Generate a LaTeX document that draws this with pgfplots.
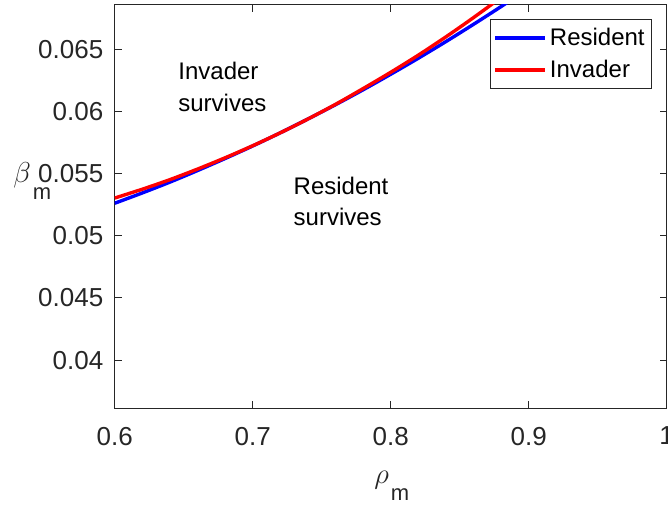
\documentclass[border=0pt]{standalone}
\usepackage{fontspec}
\setmainfont{Liberation Sans}
\usepackage{pgfplots}
\pgfplotsset{compat=1.18}
\definecolor{axgray}{RGB}{38,38,38}
\begin{document}
\begin{tikzpicture}
\begin{axis}[
  scale only axis, width=276pt, height=201.65pt,
  xmin=0.6, xmax=1, ymin=0.03614, ymax=0.0686,
  xtick={0.6,0.7,0.8,0.9,1}, xticklabels={0.6,0.7,0.8,0.9,1},
  ytick={0.04,0.045,0.05,0.055,0.06,0.065},
  yticklabels={0.04,0.045,0.05,0.055,0.06,0.065},
  tick align=inside, major tick length=3.5pt,
  axis line style={axgray, line width=0.5pt},
  every tick/.style={axgray, line width=0.5pt},
  ticklabel style={font=\fontsize{13}{15}\selectfont, text=axgray},
  xticklabel style={yshift=-6pt},
  yticklabel style={xshift=-2.2pt},
  xlabel={{\fontsize{15}{15}\selectfont$\rho$}\kern1pt\raisebox{-8.5pt}{\fontsize{11}{11}\selectfont m}},
  every axis x label/.style={at={(rel axis cs:0.4696,0)}, anchor=base west, inner sep=0pt, yshift=-37.85pt, text=axgray},
  ylabel={{\fontsize{15}{15}\selectfont$\beta$}\kern1pt\raisebox{-8.5pt}{\fontsize{11}{11}\selectfont m}},
  every axis y label/.style={at={(rel axis cs:0,0.5604)}, anchor=base west, inner sep=0pt, xshift=-50.85pt, text=axgray},
  legend style={at={(rel axis cs:0.9728,0.9645)}, anchor=north east, draw=axgray, line width=0.5pt,
    font=\fontsize{12}{14}\selectfont, inner xsep=1.75pt, inner ysep=1.25pt, row sep=0pt,
    nodes={inner sep=1.5pt, text height=10pt, text depth=3pt}},
  legend cell align=left,
  legend image code/.code={\draw[#1, line width=1.7pt] (0pt,0pt) -- (25pt,0pt);},
]
\addplot[blue, line width=1.7pt, smooth] coordinates {
(0.60,0.05262) (0.62,0.05345) (0.64,0.05432) (0.66,0.05525) (0.68,0.05622)
(0.70,0.05723) (0.72,0.05829) (0.74,0.05940) (0.76,0.06055) (0.78,0.06175)
(0.80,0.06300) (0.82,0.06429) (0.84,0.06563) (0.86,0.06702) (0.88,0.06845)
(0.90,0.06993)
};
\addlegendentry{Resident}
\addplot[red, line width=1.7pt, smooth] coordinates {
(0.60,0.05304) (0.62,0.05375) (0.64,0.05452) (0.66,0.05537) (0.68,0.05628)
(0.70,0.05725) (0.72,0.05829) (0.74,0.05940) (0.76,0.06058) (0.78,0.06185)
(0.80,0.06316) (0.82,0.06454) (0.84,0.06601) (0.86,0.06756) (0.88,0.06919)
(0.90,0.07091)
};
\addlegendentry{Invader}
\node[anchor=base west, inner sep=0pt, font=\fontsize{12}{14}\selectfont] at (axis cs:0.64587,0.06254) {Invader};
\node[anchor=base west, inner sep=0pt, font=\fontsize{12}{14}\selectfont] at (axis cs:0.64587,0.05999) {survives};
\node[anchor=base west, inner sep=0pt, font=\fontsize{12}{14}\selectfont] at (axis cs:0.72942,0.05329) {Resident};
\node[anchor=base west, inner sep=0pt, font=\fontsize{12}{14}\selectfont] at (axis cs:0.72942,0.05079) {survives};
\end{axis}
\pgfresetboundingbox
\path ([xshift=-57.35pt,yshift=-49pt]current axis.south west) rectangle ([xshift=0.65pt,yshift=2.35pt]current axis.north east);
\end{tikzpicture}
\end{document}
